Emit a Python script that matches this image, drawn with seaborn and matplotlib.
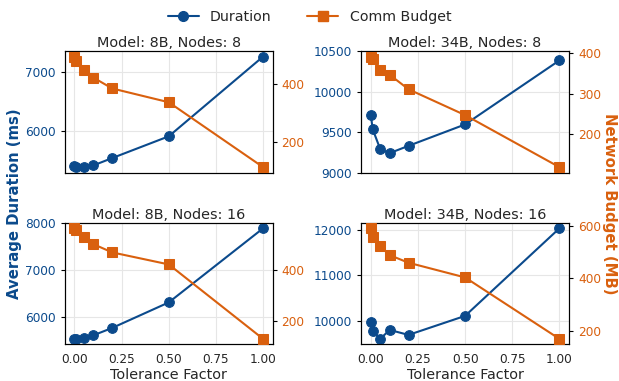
import numpy as np
import pandas as pd
import matplotlib
matplotlib.use("Agg")
import matplotlib.pyplot as plt
import seaborn as sns
from matplotlib.lines import Line2D
from matplotlib.ticker import MultipleLocator

sns.set_style("whitegrid")
plt.rcParams['font.family'] = ['DejaVu Sans']

BLUE = "#0b4a8c"
ORANGE = "#d9600e"

tolerance = [0.0, 0.01, 0.05, 0.1, 0.2, 0.5, 1.0]

dur_8b_8 = [5407, 5400, 5395, 5424, 5548, 5915, 7259]
bud_8b_8 = [497, 483, 449, 424, 386, 338, 112]

dur_34b_8 = [9717, 9537, 9291, 9241, 9331, 9595, 10385]
bud_34b_8 = [392, 386, 358, 347, 311, 247, 118]

dur_8b_16 = [5542, 5545, 5563, 5618, 5775, 6318, 7894]
bud_8b_16 = [568, 562, 535, 505, 472, 424, 127]

dur_34b_16 = [9978, 9779, 9596, 9794, 9684, 10104, 12037]
bud_34b_16 = [590, 556, 521, 488, 459, 403, 169]

panels = [
    ("Model: 8B, Nodes: 8", dur_8b_8, bud_8b_8, None, 1000, 200),
    ("Model: 34B, Nodes: 8", dur_34b_8, bud_34b_8, (9000, 10500), 500, 100),
    ("Model: 8B, Nodes: 16", dur_8b_16, bud_8b_16, None, 1000, 200),
    ("Model: 34B, Nodes: 16", dur_34b_16, bud_34b_16, None, 1000, 200),
]

fig, axes = plt.subplots(2, 2, figsize=(6.19, 3.81), dpi=100, sharex=True)
fig.subplots_adjust(left=0.105, right=0.919, top=0.866, bottom=0.096,
                    wspace=0.428, hspace=0.412)

for ax, (title, dur, bud, ylim, lstep, rstep) in zip(axes.flat, panels):
    df = pd.DataFrame({"tol": tolerance, "dur": dur, "bud": bud})
    sns.lineplot(data=df, x="tol", y="dur", ax=ax, color=BLUE, marker="o",
                 markersize=7, linewidth=1.5, markeredgecolor=BLUE, zorder=3)
    ax2 = ax.twinx()
    sns.lineplot(data=df, x="tol", y="bud", ax=ax2, color=ORANGE, marker="s",
                 markersize=7, linewidth=1.5, markeredgecolor=ORANGE, zorder=3)
    ax2.grid(False)
    if ylim:
        ax.set_ylim(*ylim)
    ax.yaxis.set_major_locator(MultipleLocator(lstep))
    ax2.yaxis.set_major_locator(MultipleLocator(rstep))
    ax.set_title(title, fontsize=10.4, pad=3)
    ax.set_xlabel("")
    ax.set_ylabel("")
    ax2.set_ylabel("")
    ax.set_xticks([0, 0.25, 0.5, 0.75, 1.0])
    ax.grid(True, color="#e6e6e6", linewidth=0.8)
    ax.tick_params(axis="y", colors=BLUE, labelsize=8.7, length=3, width=0.8)
    ax.tick_params(axis="y", color="black")
    ax.tick_params(axis="x", labelsize=8.7, length=3, width=0.8, color="black")
    ax2.tick_params(axis="y", colors=ORANGE, labelsize=8.7, length=3, width=0.8)
    ax2.tick_params(axis="y", color="black")
    for a in (ax, ax2):
        for s in a.spines.values():
            s.set_color("black")
            s.set_linewidth(0.8)

for ax in axes[1]:
    ax.set_xlabel("Tolerance Factor", fontsize=10.4)
    ax.xaxis.labelpad = 1

fig.text(0.024, 0.465, "Average Duration (ms)", rotation=90, ha="center", va="center",
         color=BLUE, fontsize=10.7, fontweight="bold")
fig.text(0.985, 0.465, "Network Budget (MB)", rotation=270, ha="center", va="center",
         color=ORANGE, fontsize=10.7, fontweight="bold")

handles = [
    Line2D([], [], color=BLUE, marker="o", markersize=7, linewidth=1.5),
    Line2D([], [], color=ORANGE, marker="s", markersize=7, linewidth=1.5),
]
fig.legend(handles, ["Duration", "Comm Budget"], loc="upper center",
           bbox_to_anchor=(0.5, 1.008), ncol=2, frameon=False, fontsize=10.2,
           columnspacing=2.5, handlelength=2.2)

fig.savefig("out.png", dpi=100)
